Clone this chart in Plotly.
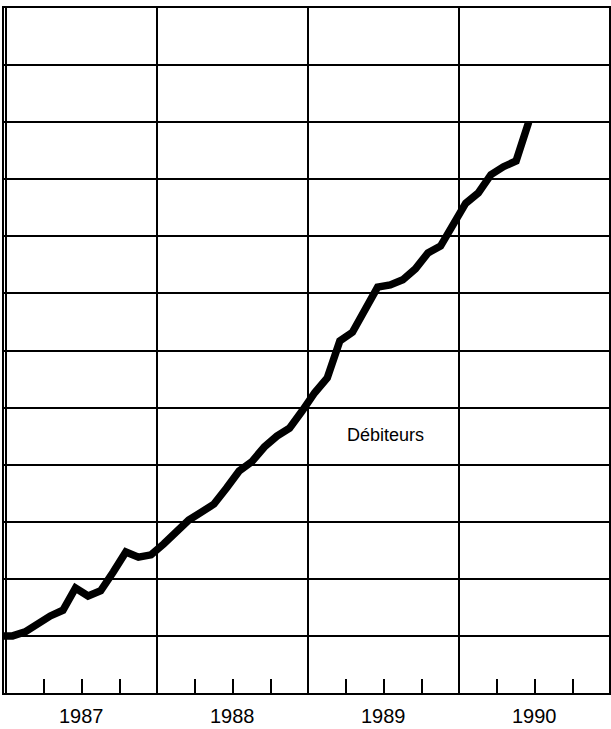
import plotly.graph_objects as go

# monthly figures, Dec 1986 .. Jun 1990 (grid units)
years = [1986] + [1987] * 12 + [1988] * 12 + [1989] * 12 + [1990] * 6
months = [12] + list(range(1, 13)) * 3 + list(range(1, 7))
debiteurs = [1.0,
             1.0, 1.07, 1.22, 1.35, 1.45, 1.84, 1.70, 1.79, 2.12, 2.47, 2.38, 2.42,
             2.61, 2.82, 3.03, 3.17, 3.31, 3.59, 3.89, 4.05, 4.31, 4.50, 4.64, 4.94,
             5.26, 5.52, 6.17, 6.32, 6.69, 7.11, 7.15, 7.24, 7.43, 7.71, 7.83, 8.22,
             8.58, 8.76, 9.08, 9.22, 9.32, 10.0]
year_labels = ["1987", "1988", "1989", "1990"]

# plot each month in the middle of its month
x = [y + (m - 0.5) / 12 for y, m in zip(years, months)]

FONT = "Liberation Sans, Arial, sans-serif"

fig = go.Figure()
fig.add_trace(go.Scatter(x=x, y=debiteurs, mode="lines",
                         line=dict(color="black", width=7.5),
                         showlegend=False, hoverinfo="skip"))

fig.update_xaxes(range=[1986.985, 1990.99], dtick=1, tick0=1987,
                 showgrid=True, gridcolor="black", gridwidth=1.5,
                 showticklabels=False, ticks="",
                 showline=True, linecolor="black", linewidth=2, mirror=True,
                 zeroline=False,
                 minor=dict(dtick=0.25, tick0=1987, ticks="inside", ticklen=14,
                            tickcolor="black", tickwidth=1.5, showgrid=False))
fig.update_yaxes(range=[0, 12], dtick=1, tick0=0,
                 showgrid=True, gridcolor="black", gridwidth=1.5,
                 showticklabels=False, ticks="",
                 showline=True, linecolor="black", linewidth=2, mirror=True,
                 zeroline=False)

# year labels centred under each year
for i, lab in enumerate(year_labels):
    fig.add_annotation(x=1987.5 + i, y=0, yref="paper", yshift=-23,
                       text=lab, showarrow=False, yanchor="middle",
                       font=dict(family=FONT, size=20, color="black"))

fig.add_annotation(x=1989.508, y=4.52, text="Débiteurs", showarrow=False,
                   bgcolor="white",
                   font=dict(family=FONT, size=18, color="black"))

fig.update_layout(width=611, height=729,
                  margin=dict(l=4, r=0, t=8, b=36),
                  paper_bgcolor="white", plot_bgcolor="white")

# page has a default 8px body margin, drop it so the figure sits at 0,0
fig.write_html("out.html", config={"displayModeBar": False},
               post_script="document.body.style.margin='0';")
